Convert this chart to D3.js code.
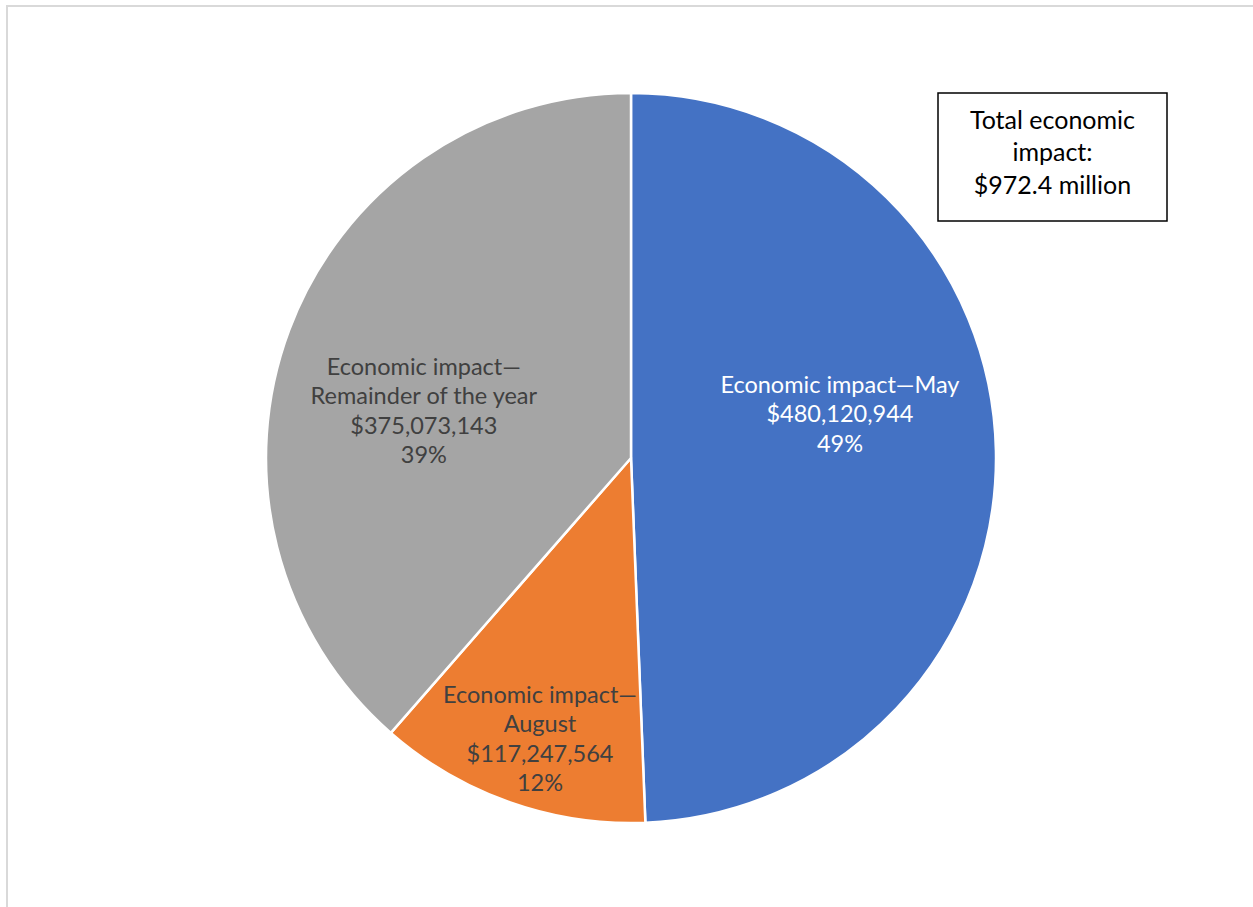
<!DOCTYPE html>
<html>
<head>
<meta charset="utf-8">
<script src="https://cdn.jsdelivr.net/npm/d3@7"></script>
<style>
  html, body { margin: 0; padding: 0; background: #fff; }
  svg { display: block; }
  text { font-family: Lato, "Open Sans", sans-serif; }
</style>
</head>
<body>
<svg id="chart" width="1253" height="907"></svg>
<script>
// Economic impact by period
const categories = ["Economic impact\u2014May", "Economic impact\u2014August", "Economic impact\u2014Remainder of the year"];
const values = [480120944, 117247564, 375073143];
const colors = ["#4472c4", "#ed7d31", "#a5a5a5"];
const labelLines = [
  ["Economic impact\u2014May"],
  ["Economic impact\u2014", "August"],
  ["Economic impact\u2014", "Remainder of the year"]
];
const textColors = ["#ffffff", "#404040", "#404040"];
const totalNote = ["Total economic", "impact:", "$972.4 million"];

const svg = d3.select("#chart");
const W = 1253, H = 907;

// chart-area frame
svg.append("path")
  .attr("d", `M7,${H} V6 H${W}`)
  .attr("fill", "none")
  .attr("stroke", "#d9d9d9")
  .attr("stroke-width", 2);

const cx = 631, cy = 458, R = 365;
const g = svg.append("g").attr("transform", `translate(${cx},${cy})`);

const total = d3.sum(values);
const pie = d3.pie().sort(null).value(d => d)(values);
const arc = d3.arc().innerRadius(0).outerRadius(R);

g.selectAll("path.slice")
  .data(pie)
  .join("path")
  .attr("class", "slice")
  .attr("d", arc)
  .attr("fill", (d, i) => colors[i])
  .attr("stroke", "#fff")
  .attr("stroke-width", 2.5)
  .attr("stroke-linejoin", "round");

// label anchor: polar position (radius fraction, angle nudge) per slice
const labelRadius = [0.585, 0.809, 0.582];
const labelShift = [-0.188, -0.026, -0.136];
const fmt = d3.format(",");
const pct = d3.format(".0%");
const lineH = 29.5;

pie.forEach((d, i) => {
  const mid = (d.startAngle + d.endAngle) / 2 + labelShift[i];
  const r = R * labelRadius[i];
  const x = r * Math.sin(mid);
  const y = -r * Math.cos(mid);
  const lines = labelLines[i].concat(["$" + fmt(values[i]), pct(values[i] / total)]);
  const t = g.append("text")
    .attr("text-anchor", "middle")
    .attr("fill", textColors[i])
    .attr("font-size", 23.5);
  const y0 = y - (lines.length - 1) * lineH / 2;
  lines.forEach((s, k) => {
    t.append("tspan")
      .attr("x", x)
      .attr("y", y0 + k * lineH)
      .attr("dy", "0.35em")
      .text(s);
  });
});

// total annotation box
const bx = 938, by = 93, bw = 229, bh = 128;
svg.append("rect")
  .attr("x", bx).attr("y", by).attr("width", bw).attr("height", bh)
  .attr("fill", "#fff").attr("stroke", "#000").attr("stroke-width", 1.5);
const bt = svg.append("text")
  .attr("text-anchor", "middle")
  .attr("fill", "#000")
  .attr("font-size", 25);
totalNote.forEach((s, k) => {
  bt.append("tspan")
    .attr("x", bx + bw / 2)
    .attr("y", by + 27 + k * 32.5)
    .attr("dy", "0.35em")
    .text(s);
});
</script>
</body>
</html>
